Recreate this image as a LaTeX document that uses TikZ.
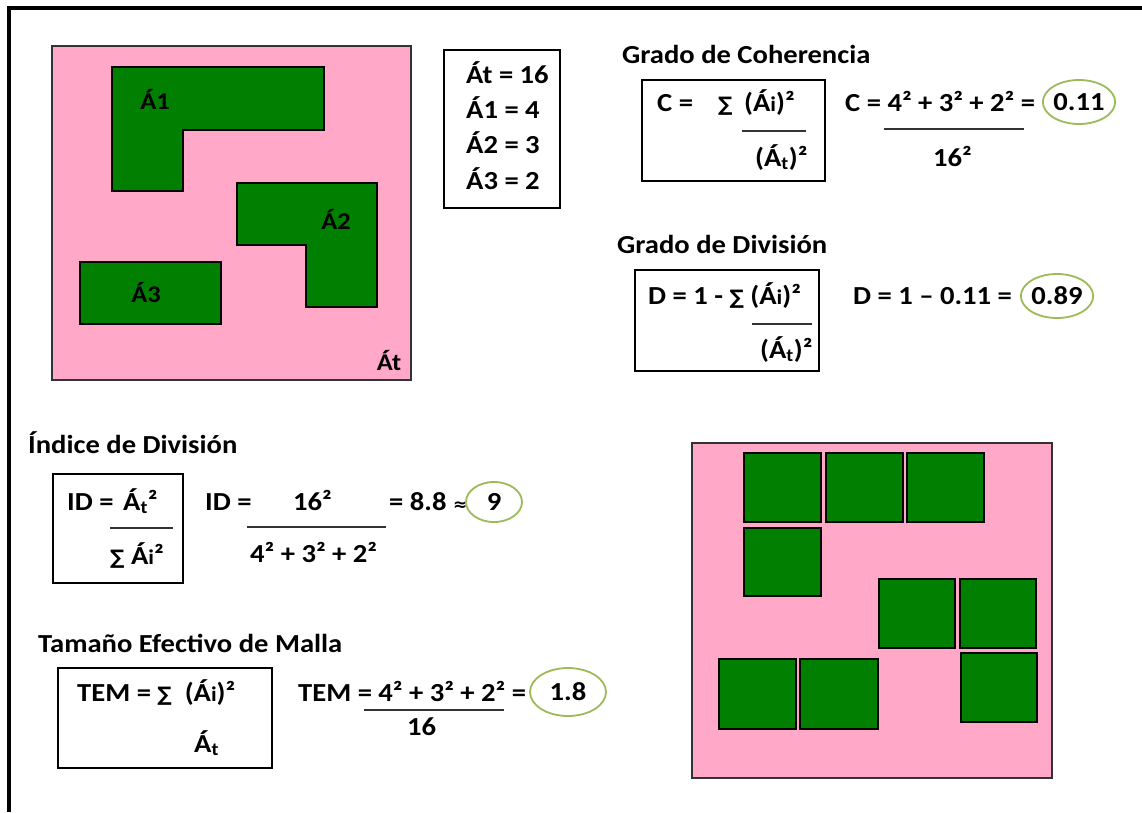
\documentclass[tikz,border=0pt]{standalone}
\usepackage{fontspec}
\setmainfont{Carlito}[FakeStretch=1.1]
\newfontfamily\symf{DejaVu Sans}
\usetikzlibrary{shapes.geometric}
\definecolor{pinkbg}{HTML}{FFA8C8}
\definecolor{patch}{HTML}{007F00}
\definecolor{ovalg}{HTML}{9BBB59}
\newcommand{\sm}{{\symf\bfseries\fontsize{20}{24}\selectfont ∑}}
\newcommand{\apx}{{\symf\bfseries\fontsize{17}{22}\selectfont ≈}}
\newcommand{\At}{Á\textsubscript{t}}
\newcommand{\Ai}{Á{\fontsize{21}{24}\selectfont i}}
\tikzset{
  txt/.style={inner sep=0pt, anchor=base west, font=\bfseries\fontsize{26}{30}\selectfont},
  ttl/.style={inner sep=0pt, anchor=base west, font=\bfseries\fontsize{26}{30}\selectfont},
  lbl/.style={inner sep=0pt, anchor=base, font=\bfseries\fontsize{24}{28}\selectfont},
  fbox/.style={draw=black, line width=2pt},
  fline/.style={draw=black!80, line width=1.6pt},
  area/.style={fill=pinkbg, draw=black!80, line width=2pt},
  patchs/.style={fill=patch, draw=black, line width=1.4pt},
  oval/.style={ellipse, draw=ovalg, line width=1.8pt, inner sep=0pt, font=\bfseries\fontsize{26}{30}\selectfont}
}
\begin{document}
\begin{tikzpicture}[x=1pt,y=-1pt]
\useasboundingbox (0,0) rectangle (1142,812);
\fill[white] (0,0) rectangle (1142,812);
% outer frame (top and left)
\draw[line width=4pt] (8.5,812) -- (8.5,8) -- (1142,8);

% ---- left map ----
\draw[area] (52,46) rectangle (411,380);
\draw[patchs] (112,67) -- (324,67) -- (324,130) -- (183,130) -- (183,191) -- (112,191) -- cycle;
\draw[patchs] (237,183) -- (377,183) -- (377,307) -- (306,307) -- (306,245) -- (237,245) -- cycle;
\draw[patchs] (80,262) rectangle (221,324);
\node[lbl] (a1) at (155,109) {Á1};
\node[lbl] (a2) at (336,229) {Á2};
\node[lbl] (a3) at (146,302) {Á3};
\node[lbl] (at) at (389,370) {Át};

% legend
\draw[fbox] (444,50) rectangle (560,208);
\node[txt] (l1) at (466,83) {Át = 16};
\node[txt] (l2) at (466,118) {Á1 = 4};
\node[txt] (l3) at (466,153) {Á2 = 3};
\node[txt] (l4) at (466,189) {Á3 = 2};

% ---- Grado de Coherencia ----
\node[ttl] (t1) at (622,63) {Grado de Coherencia};
\draw[fbox] (642,80) rectangle (825,181);
\node[txt] (c1) at (657,111) {C =};
\node[txt] (c2) at (718,111) {\sm};
\node[txt] (c3) at (744,111) {(\Ai)²};
\draw[fline] (742,131) -- (806,131);
\node[txt] (c4) at (755,166) {(\At)²};
\node[txt] (c5) at (845,111) {C = 4² + 3² + 2² =};
\draw[fline] (884,129) -- (1024,129);
\node[txt] (c6) at (933,166) {16²};
\node[oval, minimum width=66pt, minimum height=44pt] (c7) at (1079,102) {0.11};

% ---- Grado de División ----
\node[ttl] (t2) at (617,253) {Grado de División};
\draw[fbox] (635,270) rectangle (819,371);
\node[txt] (d1) at (648,304) {D = 1 - \sm\ (\Ai)²};
\draw[fline] (752,324) -- (812,324);
\node[txt] (d2) at (760,358) {(\At)²};
\node[txt] (d3) at (853,304) {D = 1 – 0.11 =};
\node[oval, minimum width=70pt, minimum height=44pt] (d4) at (1057,296) {0.89};

% ---- Índice de División ----
\node[ttl] (t3) at (28,453) {Índice de División};
\draw[fbox] (53,474) rectangle (183,583);
\node[txt] (i1) at (67,510) {ID =};
\node[txt] (i2) at (123,510) {\At²};
\draw[fline] (110,528) -- (173,528);
\node[txt] (i3) at (110,564) {\sm\ \Ai²};
\node[txt] (i4) at (205,510) {ID =};
\node[txt] (i5) at (293,510) {16²};
\draw[fline] (247,527) -- (386,527);
\node[txt] (i6) at (250,562) {4² + 3² + 2²};
\node[txt] (i7) at (389,510) {= 8.8 \apx};
\node[oval, minimum width=56pt, minimum height=40pt] (i8) at (494,502) {9};

% ---- Tamaño Efectivo de Malla ----
\node[ttl] (t4) at (38,652) {Tamaño Efectivo de Malla};
\draw[fbox] (58,668) rectangle (272,768);
\node[txt] (m1) at (77,701) {TEM = \sm\ \ (\Ai)²};
\node[txt] (m2) at (194,752) {\At};
\node[txt] (m3) at (298,701) {TEM = 4² + 3² + 2² =};
\draw[fline] (364,710) -- (504,710);
\node[txt] (m4) at (407,735) {16};
\node[oval, minimum width=76pt, minimum height=48pt] (m5) at (568,692) {1.8};

% ---- right map ----
\draw[area] (692,443) rectangle (1052,778);
\draw[patchs] (744,453) rectangle (821,522);
\draw[patchs] (826,453) rectangle (903,522);
\draw[patchs] (907,453) rectangle (984,522);
\draw[patchs] (744,528) rectangle (821,596);
\draw[patchs] (879,579) rectangle (955,648);
\draw[patchs] (960,579) rectangle (1036,648);
\draw[patchs] (719,659) rectangle (796,729);
\draw[patchs] (800,659) rectangle (878,729);
\draw[patchs] (961,653) rectangle (1037,722);
\end{tikzpicture}
\end{document}
